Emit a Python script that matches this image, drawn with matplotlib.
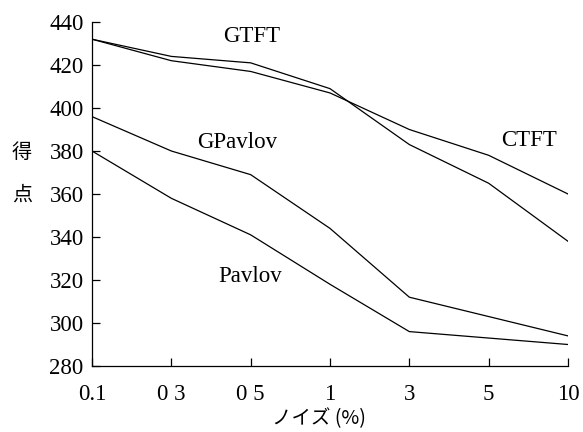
import matplotlib
matplotlib.use("Agg")
import matplotlib.pyplot as plt

categories = ["0.1", "0 3", "0 5", "1", "3", "5", "10"]
gtft = [432, 424, 421, 409, 383, 365, 338]
ctft = [432, 422, 417, 407, 390, 378, 360]
gpavlov = [396, 380, 369, 344, 312, 303, 294]
pavlov = [380, 358, 341, 318, 296, 293, 290]
yticks = [280, 300, 320, 340, 360, 380, 400, 420, 440]

serif = "Liberation Serif"
cjk = ["Noto Sans CJK JP", "DejaVu Sans"]

fig = plt.figure(figsize=(5.83, 4.32), dpi=100)
ax = fig.add_axes([92/583, 1-366/432, (568-92)/583, (366-22)/432])

x = list(range(len(categories)))
for s in (gtft, ctft, gpavlov, pavlov):
    ax.plot(x, s, color="black", lw=0.9)

ax.set_xlim(0, len(categories)-1)
ax.set_ylim(280, 440)
ax.set_xticks(x)
ax.set_xticklabels(categories, fontfamily=serif, fontsize=16.5)
ax.set_yticks(yticks)
ax.set_yticklabels([str(v) for v in yticks], fontfamily=serif, fontsize=16.5)
ax.tick_params(direction="in", length=6, width=0.9, color="black")
ax.tick_params(axis="y", pad=6)
ax.tick_params(axis="x", pad=13)
for sp in ("top", "right"):
    ax.spines[sp].set_visible(False)
for sp in ("left", "bottom"):
    ax.spines[sp].set_linewidth(0.9)

def lab(px, py, t):
    ax.text(px/583, 1-py/432, t, transform=fig.transFigure, ha="center",
            va="center", fontfamily=serif, fontsize=16.5)

lab(252, 37, "GTFT")
lab(529, 140, "CTFT")
lab(237, 142, "GPavlov")
lab(250, 277, "Pavlov")

fig.text(22/583, 1-152/432, "得", ha="center", va="center", family=cjk, fontsize=14.5)
fig.text(22/583, 1-195/432, "点", ha="center", va="center", family=cjk, fontsize=14.5)
fig.text(319/583, 1-419/432, "ノイズ (%)", ha="center", va="center", family=cjk, fontsize=14)

fig.savefig("out.png", dpi=100)
